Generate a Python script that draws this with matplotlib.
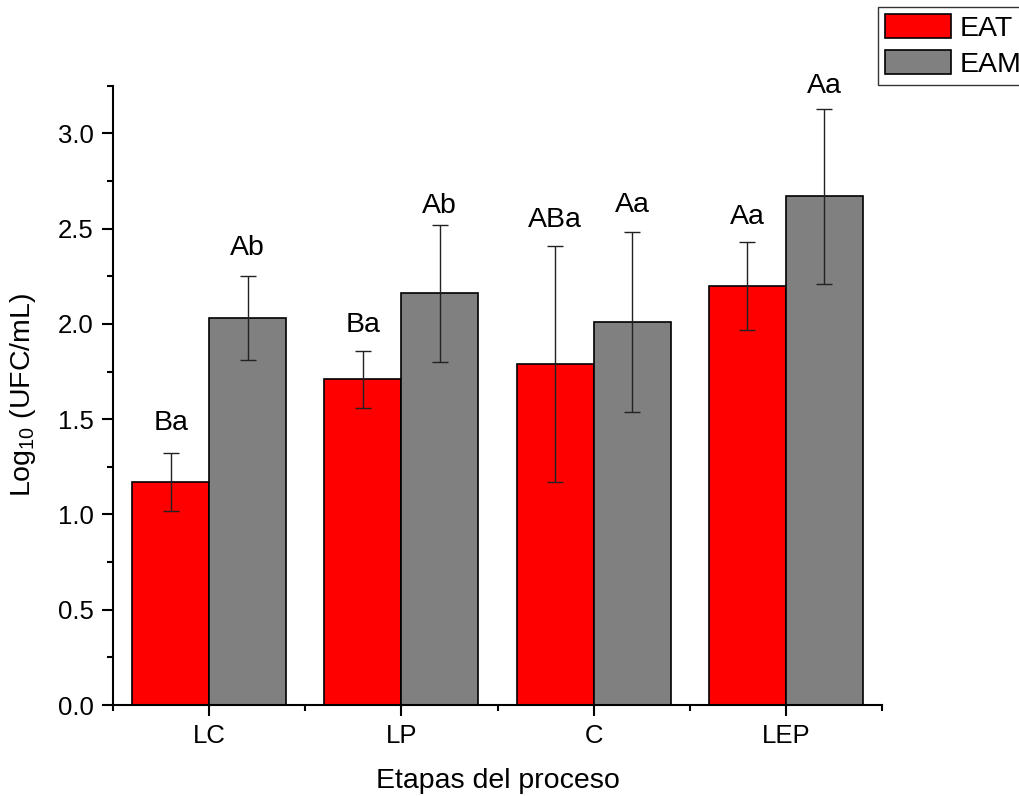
import numpy as np
import matplotlib
matplotlib.use('Agg')
import matplotlib.pyplot as plt
from matplotlib.ticker import MultipleLocator, FixedLocator

plt.rcParams['font.family'] = ['Liberation Sans', 'DejaVu Sans']

# data
stages = ['LC', 'LP', 'C', 'LEP']
eat_mean = [1.17, 1.71, 1.79, 2.20]
eat_err = [0.15, 0.15, 0.62, 0.23]
eam_mean = [2.03, 2.16, 2.01, 2.67]
eam_err = [0.22, 0.36, 0.47, 0.46]
eat_labels = ['Ba', 'Ba', 'ABa', 'Aa']
eam_labels = ['Ab', 'Ab', 'Aa', 'Aa']
eat_label_y = [1.445, 1.96, 2.508, 2.522]
eam_label_y = [2.361, 2.583, 2.585, 3.21]

x = np.arange(1, len(stages) + 1)
w = 0.4

fig = plt.figure(figsize=(10.2, 7.96), dpi=100)
ax = fig.add_axes([0.1108, 0.1143, 0.7539, 0.778])

ax.bar(x - w / 2, eat_mean, w, color='#ff0000', edgecolor='black', linewidth=1.2, label='EAT', zorder=2)
ax.bar(x + w / 2, eam_mean, w, color='#808080', edgecolor='black', linewidth=1.2, label='EAM', zorder=2)
ax.errorbar(x - w / 2, eat_mean, yerr=eat_err, fmt='none', ecolor='#222222', elinewidth=1, capsize=6, capthick=1, zorder=3)
ax.errorbar(x + w / 2, eam_mean, yerr=eam_err, fmt='none', ecolor='#222222', elinewidth=1, capsize=6, capthick=1, zorder=3)

for xi, lab, yl in zip(x - w / 2, eat_labels, eat_label_y):
    ax.text(xi, yl, lab, ha='center', va='baseline', fontsize=20.5)
for xi, lab, yl in zip(x + w / 2, eam_labels, eam_label_y):
    ax.text(xi, yl, lab, ha='center', va='baseline', fontsize=20.5)

ax.set_xlim(0.5, 4.5)
ax.set_ylim(0, 3.25)
ax.set_xticks(x)
ax.set_xticklabels(stages)
ax.xaxis.set_minor_locator(FixedLocator([0.5, 1.5, 2.5, 3.5, 4.5]))
ax.yaxis.set_major_locator(MultipleLocator(0.5))
ax.yaxis.set_minor_locator(MultipleLocator(0.25))
ax.yaxis.set_major_formatter(matplotlib.ticker.FormatStrFormatter('%.1f'))

for s in ['top', 'right']:
    ax.spines[s].set_visible(False)
for s in ['left', 'bottom']:
    ax.spines[s].set_linewidth(1.5)
ax.tick_params(which='major', direction='out', length=8, width=1.5, labelsize=18.5, pad=6)
ax.tick_params(which='minor', direction='out', length=4.5, width=1.5)

ax.set_xlabel('Etapas del proceso', fontsize=20.5, labelpad=14)
ax.set_ylabel(r'Log$_{\mathregular{10}}$ (UFC/mL)', fontsize=20.5, labelpad=14)

leg = fig.legend(loc='upper left', bbox_to_anchor=(878 / 1020, 1 - 7 / 796), fontsize=20.5,
                 frameon=True, fancybox=False, edgecolor='black', borderpad=0.25,
                 handlelength=2.3, handleheight=0.9, handletextpad=0.3,
                 labelspacing=0.3, borderaxespad=0)
leg.get_frame().set_linewidth(1.0)

fig.savefig('out.png', dpi=100)
